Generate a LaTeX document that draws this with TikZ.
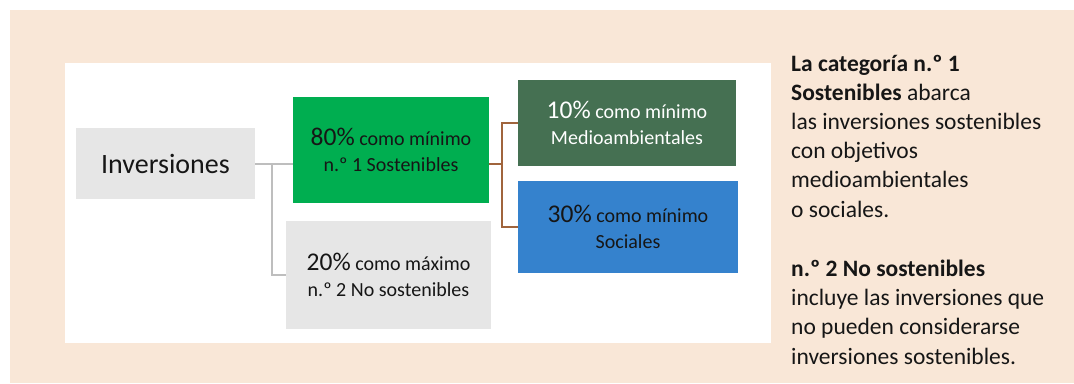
\documentclass[tikz,border=0pt]{standalone}
\usepackage{fontspec}
\setmainfont{Carlito}
\definecolor{bgbeige}{RGB}{249,231,215}
\definecolor{boxgray}{RGB}{230,230,230}
\definecolor{boxgreen}{RGB}{0,174,80}
\definecolor{boxdkgreen}{RGB}{69,112,82}
\definecolor{boxblue}{RGB}{53,130,205}
\definecolor{linegray}{RGB}{190,190,190}
\definecolor{linebrown}{RGB}{160,100,60}
\definecolor{txt}{RGB}{22,22,22}
\tikzset{
  box/.style={rectangle, inner sep=0pt, align=center, text=txt,
    font=\fontsize{20}{26}\selectfont},
  conn/.style={line width=1.8pt},
  sidetext/.style={inner sep=0pt, align=left, text=txt,
    font=\fontsize{23.5}{29.2}\selectfont}
}
\newcommand{\pct}[1]{{\fontsize{25.5}{26}\selectfont #1}}
\begin{document}
\begin{tikzpicture}[x=1pt,y=-1pt]
\useasboundingbox (0,0) rectangle (1074,383);
\fill[bgbeige] (10,10) rectangle (1074,383);
\fill[white] (65,63) rectangle (771,343);

\node[box, fill=boxgray, minimum width=179pt, minimum height=71pt,
  font=\fontsize{28}{30}\selectfont] (inv) at (165.5,163.5) {Inversiones};
\node[box, fill=boxgreen, minimum width=196pt, minimum height=106pt] (sost) at (391,150)
  {\pct{80\%} como mínimo\\n.º 1 Sostenibles};
\node[box, fill=boxgray, minimum width=205pt, minimum height=108pt] (nosost) at (388.5,275)
  {\pct{20\%} como máximo\\n.º 2 No sostenibles};
\node[box, fill=boxdkgreen, text=white, minimum width=218pt, minimum height=86pt] (env) at (627,123)
  {\pct{10\%} como mínimo\\Medioambientales};
\node[box, fill=boxblue, minimum width=220pt, minimum height=92pt] (soc) at (628,227)
  {\pct{30\%} como mínimo\\Sociales};

\coordinate (j1) at (272,164);
\coordinate (j2) at (502,164);
\draw[conn, linegray] (inv.east |- j1) -- (j1 -| sost.west);
\draw[conn, linegray] (j1) |- (nosost.west);
\draw[conn, linebrown] (j2 -| sost.east) -- (j2);
\draw[conn, linebrown] (env.west) -| (j2) |- (soc.west);

\node[sidetext, anchor=base west] (t1) at (791,217)
  {\textbf{La categoría n.º 1}\\\textbf{Sostenibles} abarca\\las inversiones sostenibles\\con objetivos\\medioambientales\\o sociales.};
\node[sidetext, anchor=base west] (t2) at (791,364)
  {\textbf{n.º 2 No sostenibles}\\incluye las inversiones que\\no pueden considerarse\\inversiones sostenibles.};
\end{tikzpicture}
\end{document}
